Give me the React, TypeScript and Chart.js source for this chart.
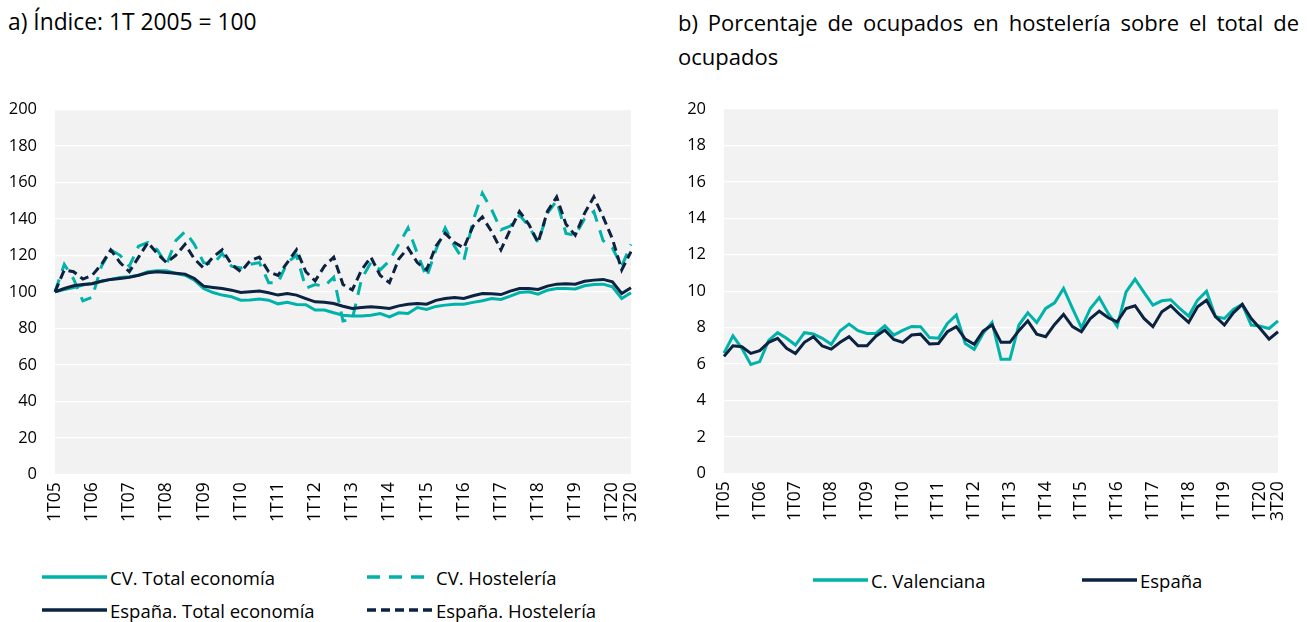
import React, { useEffect, useRef } from "react";
import { Chart, registerables } from "chart.js";

Chart.register(...registerables);

// ---------- DATA ----------
const categories = [
  "1T05", "2T05", "3T05", "4T05", "1T06", "2T06", "3T06", "4T06",
  "1T07", "2T07", "3T07", "4T07", "1T08", "2T08", "3T08", "4T08",
  "1T09", "2T09", "3T09", "4T09", "1T10", "2T10", "3T10", "4T10",
  "1T11", "2T11", "3T11", "4T11", "1T12", "2T12", "3T12", "4T12",
  "1T13", "2T13", "3T13", "4T13", "1T14", "2T14", "3T14", "4T14",
  "1T15", "2T15", "3T15", "4T15", "1T16", "2T16", "3T16", "4T16",
  "1T17", "2T17", "3T17", "4T17", "1T18", "2T18", "3T18", "4T18",
  "1T19", "2T19", "3T19", "4T19", "1T20", "2T20", "3T20",
];

const tickLabels = [
  "1T05", "1T06", "1T07", "1T08", "1T09", "1T10", "1T11", "1T12",
  "1T13", "1T14", "1T15", "1T16", "1T17", "1T18", "1T19", "1T20", "3T20",
];

// a) Index 1T2005 = 100
const cvTotal = [
  100, 101.3, 102.4, 103.7, 104.6, 105.8, 106.8, 107.9, 108.2, 109.1, 111, 111.5, 111.5, 110, 109.1, 106.4,
  101.8, 99.6, 98.2, 97.3, 95.4, 95.5, 96, 95.4, 93.4, 94.2, 93.1, 92.9, 90, 90, 88.5, 87.2,
  86.7, 86.8, 87.2, 88.1, 86.3, 88.5, 88.1, 91.4, 90.3, 92, 92.7, 93.2, 93.2, 94.2, 95.1, 96.3,
  95.8, 97.6, 99.6, 100, 98.7, 100.9, 101.8, 101.8, 101.6, 103.3, 104, 104.2, 102.7, 96.3, 99.5,
];
const cvHost = [
  100, 115, 107, 95, 97, 114, 123, 120, 114, 125, 127, 123, 115, 128, 133, 126,
  116, 115, 121, 114, 113, 115, 116, 105, 105, 116, 120, 102, 104, 103, 108, 84,
  85, 107, 116, 112, 117, 126, 135, 121, 108, 123, 135, 125, 117, 139, 154, 145,
  134, 136, 142, 136, 127, 143, 150, 132, 131, 140, 144, 128, 124, 114, 126,
];
const esTotal = [
  100, 101.8, 103.3, 104, 104.4, 105.8, 106.8, 107.3, 107.9, 109.1, 110.4, 111, 110.6, 110.2, 109.7, 107.3,
  103.1, 102.4, 101.8, 100.9, 99.6, 100, 100.4, 99.5, 98.2, 99.1, 98.2, 96.3, 94.5, 94.3, 93.6, 92.1,
  90.9, 91.4, 91.8, 91.4, 90.9, 92.3, 93.2, 93.6, 93.2, 95.3, 96.3, 96.9, 96.3, 97.8, 99.1, 98.9,
  98.5, 100.4, 101.8, 101.8, 101.3, 103.1, 104.2, 104.4, 104.2, 105.8, 106.4, 106.8, 105.5, 99.1, 102.2,
];
const esHost = [
  100, 112, 111, 107, 109, 115, 123, 116, 111, 119, 127, 121, 116, 120, 126, 118,
  113, 119, 123, 115, 111, 117, 119, 111, 109, 116, 123, 111, 106, 114, 119, 104,
  101, 112, 119, 109, 105, 118, 124, 116, 112, 125, 132, 127, 124, 136, 141, 133,
  123, 134, 144, 137, 127, 144, 152, 137, 131, 143, 152, 141, 129, 112, 122,
];

// b) % employed in hospitality over total employed
const cvShare = [
  6.6, 7.55, 6.86, 5.98, 6.13, 7.3, 7.72, 7.41, 7.04, 7.72, 7.65, 7.41, 7.08, 7.83, 8.19, 7.83,
  7.68, 7.68, 8.1, 7.59, 7.85, 8.06, 8.05, 7.45, 7.42, 8.23, 8.69, 7.13, 6.81, 7.68, 8.28, 6.26,
  6.26, 8.14, 8.81, 8.28, 9.05, 9.36, 10.15, 9.05, 7.99, 9.05, 9.65, 8.78, 8.08, 9.96, 10.66, 9.93,
  9.23, 9.47, 9.53, 9.05, 8.63, 9.51, 10.0, 8.6, 8.5, 9.0, 9.27, 8.14, 8.08, 7.95, 8.37,
];
const esShare = [
  6.42, 7.0, 6.95, 6.58, 6.73, 7.19, 7.41, 6.86, 6.58, 7.19, 7.5, 6.99, 6.82, 7.19, 7.5, 7.0,
  7.0, 7.53, 7.86, 7.35, 7.19, 7.59, 7.64, 7.1, 7.13, 7.77, 8.05, 7.37, 7.08, 7.81, 8.14, 7.19,
  7.19, 7.83, 8.37, 7.64, 7.5, 8.17, 8.72, 8.05, 7.77, 8.5, 8.9, 8.54, 8.32, 9.05, 9.2, 8.5,
  8.05, 8.87, 9.2, 8.72, 8.28, 9.14, 9.5, 8.6, 8.14, 8.81, 9.27, 8.5, 7.95, 7.37, 7.77,
];

// ---------- STYLE ----------
const TEAL = "#00B2A9";
const NAVY = "#0B2341";
const FONT = "'Open Sans', 'Noto Sans', sans-serif";
const TEAL_DASH = [13, 9];
const NAVY_DASH = [9, 5];

const bgPlugin = {
  id: "plotBg",
  beforeDraw(chart: any) {
    const { ctx, chartArea } = chart;
    if (!chartArea) return;
    ctx.save();
    ctx.fillStyle = "#F2F2F2";
    ctx.fillRect(chartArea.left, chartArea.top, chartArea.width, chartArea.height);
    ctx.restore();
  },
};

function makeOptions(opts: {
  yMax: number;
  yStep: number;
  yWidth: number;
  padTop: number;
  padRight: number;
  padBottom: number;
}) {
  return {
    animation: false,
    responsive: false,
    maintainAspectRatio: false,
    layout: { padding: { top: opts.padTop, right: opts.padRight, bottom: opts.padBottom, left: 0 } },
    plugins: { legend: { display: false }, tooltip: { enabled: false }, title: { display: false } },
    elements: { point: { radius: 0 }, line: { tension: 0 } },
    scales: {
      x: {
        offset: false,
        grid: { display: false, drawTicks: false },
        border: { display: false },
        ticks: {
          autoSkip: false,
          maxRotation: 90,
          minRotation: 90,
          padding: 8,
          color: "#000",
          font: { family: FONT, size: 17.5 },
          callback: (_v: any, i: number) => (tickLabels.includes(categories[i]) ? categories[i] : ""),
        },
        afterFit: (s: any) => {
          s.height = 70;
        },
      },
      y: {
        min: 0,
        max: opts.yMax,
        grid: { color: "#FFFFFF", lineWidth: 1.2, drawTicks: false },
        border: { display: false },
        ticks: {
          stepSize: opts.yStep,
          padding: 18,
          color: "#000",
          font: { family: FONT, size: 16.5 },
        },
        afterFit: (s: any) => {
          s.width = opts.yWidth;
        },
      },
    },
  };
}

function LeftChart() {
  const ref = useRef<HTMLCanvasElement>(null);
  useEffect(() => {
    if (!ref.current) return;
    const chart = new Chart(ref.current, {
      type: "line",
      data: {
        labels: categories,
        datasets: [
          { label: "CV. Total economía", data: cvTotal, borderColor: TEAL, borderWidth: 3, order: 4 },
          { label: "CV. Hostelería", data: cvHost, borderColor: TEAL, borderWidth: 3, borderDash: TEAL_DASH, order: 3 },
          { label: "España. Total economía", data: esTotal, borderColor: NAVY, borderWidth: 3, order: 2 },
          { label: "España. Hostelería", data: esHost, borderColor: NAVY, borderWidth: 3, borderDash: NAVY_DASH, order: 1 },
        ],
      },
      options: makeOptions({ yMax: 200, yStep: 20, yWidth: 55, padTop: 109.3, padRight: 17, padBottom: 560 - 474.3 - 70 }) as any,
      plugins: [bgPlugin],
    });
    return () => chart.destroy();
  }, []);
  return <canvas ref={ref} width={660} height={560} style={{ position: "absolute", left: 0, top: 0, width: 660, height: 560 }} />;
}

function RightChart() {
  const ref = useRef<HTMLCanvasElement>(null);
  useEffect(() => {
    if (!ref.current) return;
    const chart = new Chart(ref.current, {
      type: "line",
      data: {
        labels: categories,
        datasets: [
          { label: "C. Valenciana", data: cvShare, borderColor: TEAL, borderWidth: 3, order: 2 },
          { label: "España", data: esShare, borderColor: NAVY, borderWidth: 3, order: 1 },
        ],
      },
      options: makeOptions({ yMax: 20, yStep: 2, yWidth: 54, padTop: 109, padRight: 12, padBottom: 560 - 473.3 - 70 }) as any,
      plugins: [bgPlugin],
    });
    return () => chart.destroy();
  }, []);
  return <canvas ref={ref} width={637} height={560} style={{ position: "absolute", left: 670, top: 0, width: 637, height: 560 }} />;
}

function LegendItem(props: { x: number; y: number; lineW: number; color: string; dash?: number[]; label: string }) {
  const { x, y, lineW, color, dash, label } = props;
  return (
    <div style={{ position: "absolute", left: x, top: y - 13, height: 26, display: "flex", alignItems: "center", whiteSpace: "nowrap" }}>
      <svg width={lineW} height={8} style={{ display: "block" }}>
        <line x1={0} y1={4} x2={lineW} y2={4} stroke={color} strokeWidth={3.5} strokeDasharray={dash ? dash.join(" ") : undefined} />
      </svg>
      <span style={{ marginLeft: 3, fontFamily: FONT, fontSize: 18.5, color: "#000" }}>{label}</span>
    </div>
  );
}

export default function App() {
  return (
    <div style={{ position: "absolute", left: 0, top: 0, width: 1307, height: 622, background: "#fff", overflow: "hidden" }}>
      <div style={{ position: "absolute", left: 8, top: 7, lineHeight: "30px", fontFamily: FONT, fontSize: 22.8, color: "#000", whiteSpace: "nowrap" }}>
        a) Índice: 1T 2005 = 100
      </div>
      <div
        style={{
          position: "absolute",
          left: 678,
          top: 5,
          width: 621,
          fontFamily: FONT,
          fontSize: 22,
          lineHeight: "34px",
          color: "#000",
          textAlign: "justify",
          textAlignLast: "left" as any,
        }}
      >
        b) Porcentaje de ocupados en hostelería sobre el total de ocupados
      </div>
      <LeftChart />
      <RightChart />
      <LegendItem x={42} y={577} lineW={65} color={TEAL} label="CV. Total economía" />
      <LegendItem x={367} y={577} lineW={66} color={TEAL} dash={TEAL_DASH} label="CV. Hostelería" />
      <LegendItem x={42} y={610} lineW={65} color={NAVY} label="España. Total economía" />
      <LegendItem x={367} y={610} lineW={66} color={NAVY} dash={NAVY_DASH} label="España. Hostelería" />
      <LegendItem x={813} y={580} lineW={55} color={TEAL} label="C. Valenciana" />
      <LegendItem x={1082} y={580} lineW={55} color={NAVY} label="España" />
    </div>
  );
}
